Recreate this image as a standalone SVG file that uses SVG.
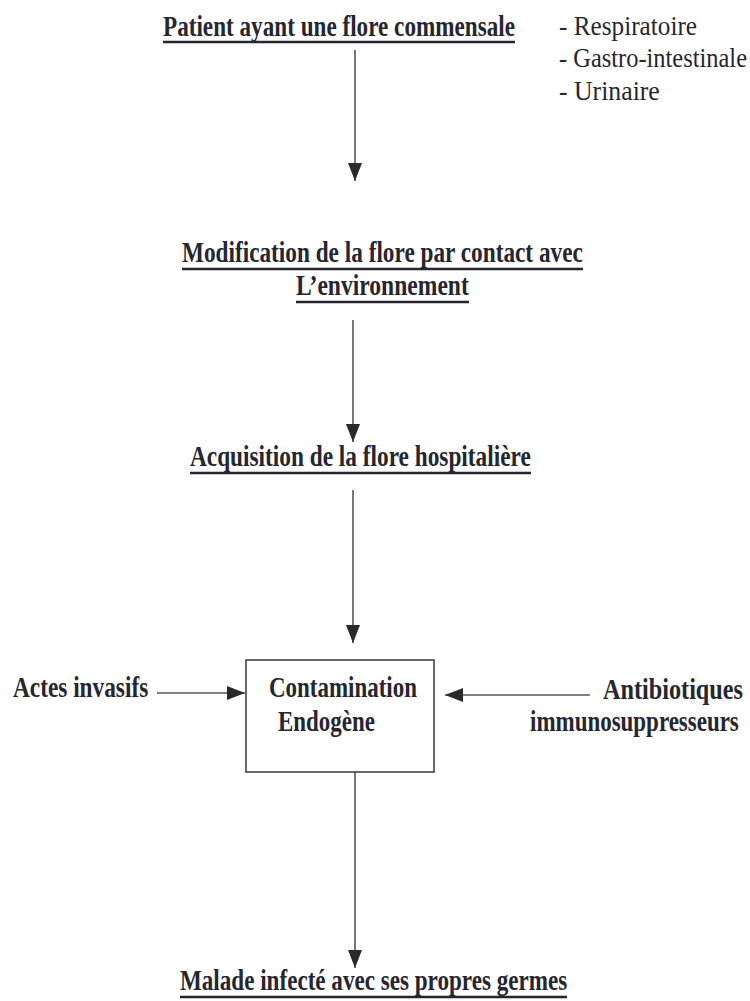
<svg xmlns="http://www.w3.org/2000/svg" width="750" height="1001" viewBox="0 0 750 1001">
<style>
.t{font-family:"Liberation Serif","DejaVu Serif",serif;font-weight:bold;font-size:29px;fill:#262630}
.r{font-family:"Liberation Serif","DejaVu Serif",serif;font-weight:normal;font-size:28px;fill:#262630}
.u{stroke:#262630;stroke-width:2.5}
.c{stroke:#555;stroke-width:1.6;fill:none}
</style>
<defs>
<marker id="ah" markerUnits="userSpaceOnUse" markerWidth="18" markerHeight="14" refX="18" refY="7" orient="auto">
<path d="M0,0 L18,7 L0,14 z" fill="#2a2a2a"/>
</marker>
</defs>
<rect width="750" height="1001" fill="#fff"/>
<g id="connectors">
<line class="c" x1="355" y1="50" x2="355" y2="181" marker-end="url(#ah)"/>
<line class="c" x1="353" y1="320" x2="353" y2="442" marker-end="url(#ah)"/>
<line class="c" x1="353" y1="490" x2="353" y2="643" marker-end="url(#ah)"/>
<line class="c" x1="355" y1="772" x2="355" y2="968" marker-end="url(#ah)"/>
<line class="c" x1="157" y1="693" x2="245" y2="693" marker-end="url(#ah)"/>
<line class="c" x1="590" y1="695" x2="445" y2="695" marker-end="url(#ah)"/>
</g>
<g id="patient">
<text class="t" transform="translate(163,36) scale(0.8,1)" textLength="440" lengthAdjust="spacingAndGlyphs">Patient ayant une flore commensale</text>
<line class="u" x1="163" y1="42" x2="515" y2="42"/>
</g>
<g id="flores">
<text class="r" transform="translate(559,35) scale(0.8,1)" textLength="172.5" lengthAdjust="spacingAndGlyphs">- Respiratoire</text>
<text class="r" transform="translate(559,67) scale(0.8,1)" textLength="235" lengthAdjust="spacingAndGlyphs">- Gastro-intestinale</text>
<text class="r" transform="translate(559,100) scale(0.8,1)" textLength="126" lengthAdjust="spacingAndGlyphs">- Urinaire</text>
</g>
<g id="modification">
<text class="t" transform="translate(182,262) scale(0.8,1)" textLength="501" lengthAdjust="spacingAndGlyphs">Modification de la flore par contact avec</text>
<line class="u" x1="182" y1="269" x2="583" y2="269"/>
<text class="t" transform="translate(296,295) scale(0.8,1)" textLength="216" lengthAdjust="spacingAndGlyphs">L’environnement</text>
<line class="u" x1="296" y1="302" x2="469" y2="302"/>
</g>
<g id="acquisition">
<text class="t" transform="translate(190,466) scale(0.8,1)" textLength="426" lengthAdjust="spacingAndGlyphs">Acquisition de la flore hospitalière</text>
<line class="u" x1="190" y1="473" x2="531" y2="473"/>
</g>
<g id="contamination">
<rect x="246" y="660" width="188" height="112" fill="none" stroke="#444" stroke-width="1.6"/>
<text class="t" transform="translate(269,697) scale(0.8,1)" textLength="185" lengthAdjust="spacingAndGlyphs">Contamination</text>
<text class="t" transform="translate(278,731) scale(0.8,1)" textLength="121" lengthAdjust="spacingAndGlyphs">Endogène</text>
</g>
<g id="actes">
<text class="t" transform="translate(13,697) scale(0.8,1)" textLength="169" lengthAdjust="spacingAndGlyphs">Actes invasifs</text>
</g>
<g id="antibiotiques">
<text class="t" transform="translate(603,699) scale(0.8,1)" textLength="175" lengthAdjust="spacingAndGlyphs">Antibiotiques</text>
<text class="t" transform="translate(530,731) scale(0.8,1)" textLength="261" lengthAdjust="spacingAndGlyphs">immunosuppresseurs</text>
</g>
<g id="malade">
<text class="t" transform="translate(180,990) scale(0.8,1)" textLength="484" lengthAdjust="spacingAndGlyphs">Malade infecté avec ses propres germes</text>
<line class="u" x1="180" y1="997" x2="567" y2="997"/>
</g>
</svg>
